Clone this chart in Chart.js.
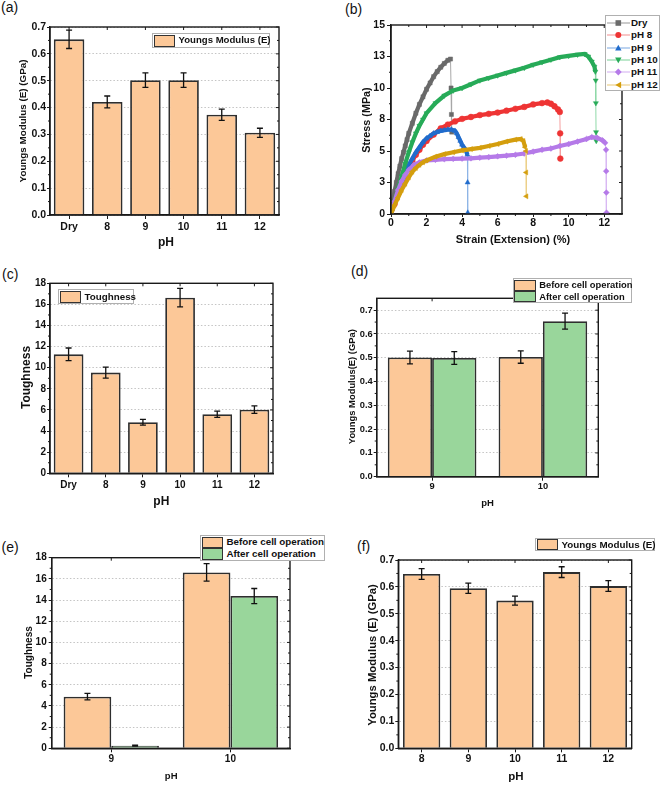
<!DOCTYPE html>
<html><head><meta charset="utf-8">
<script src="https://cdn.jsdelivr.net/npm/chart.js@4.4.1/dist/chart.umd.min.js"></script>
<style>
html,body{margin:0;padding:0;background:#fff;}
body{width:660px;height:785px;position:relative;overflow:hidden;font-family:"Liberation Sans",Arial,sans-serif;}
canvas{position:absolute;}
.lab{position:absolute;font-size:14px;line-height:14px;color:#111;font-family:"Liberation Sans",Arial,sans-serif;}
.leg{position:absolute;background:#fff;border:1px solid #b0b0b0;box-sizing:border-box;font-weight:bold;color:#111;z-index:5;}
.row{position:absolute;left:0;right:0;}
.sw{position:absolute;box-sizing:border-box;border:1.6px solid #333;}
.tx{position:absolute;white-space:nowrap;}
</style></head><body>
<div class="lab" style="left:1px;top:0px">(a)</div>
<div class="lab" style="left:345px;top:2px">(b)</div>
<div class="lab" style="left:2px;top:266.5px">(c)</div>
<div class="lab" style="left:351px;top:263.5px">(d)</div>
<div class="lab" style="left:1.5px;top:540px">(e)</div>
<div class="lab" style="left:357px;top:538.5px">(f)</div>
<canvas id="cA"></canvas><canvas id="cB"></canvas><canvas id="cC"></canvas>
<canvas id="cD"></canvas><canvas id="cE"></canvas><canvas id="cF"></canvas>
<script>
// ---------- DATA ----------
const phAll = ['Dry','8','9','10','11','12'];
const modulusA = [0.654,0.421,0.502,0.502,0.373,0.306];
const modulusAErr = [0.034,0.022,0.027,0.027,0.021,0.017];

const toughC = [11.27,9.54,4.83,16.64,5.59,6.03];
const toughCErr = [0.6,0.52,0.27,0.87,0.3,0.35];

const phCell = ['9','10'];
const modBefore = [0.501,0.503];
const modBeforeErr = [0.027,0.026];
const modAfter = [0.499,0.654];
const modAfterErr = [0.027,0.034];

const toughBefore = [4.88,16.61];
const toughBeforeErr = [0.31,0.83];
const toughAfter = [0.25,14.38];
const toughAfterErr = [0.05,0.71];

const phF = ['8','9','10','11','12'];
const modulusF = [0.648,0.595,0.549,0.655,0.603];
const modulusFErr = [0.02,0.019,0.017,0.02,0.02];

// stress-strain curves (strain %, stress MPa)
const dryStrain  = [0,0.1,0.2,0.3,0.4,0.5,0.6,0.7,0.8,0.9,1.0,1.2,1.4,1.6,1.8,2.0,2.2,2.4,2.6,2.8,3.0,3.2,3.35,3.38,3.4,3.42];
const dryStress  = [0,1.0,1.8,2.5,3.2,3.8,4.4,4.9,5.4,5.9,6.4,7.2,8.0,8.7,9.3,9.9,10.4,10.9,11.3,11.65,11.95,12.2,12.3,10.0,7.9,6.5];
const ph8Strain  = [0,0.2,0.4,0.6,0.8,1.0,1.2,1.4,1.6,1.8,2.0,2.4,2.8,3.2,3.6,4.0,4.5,5.0,5.5,6.0,6.5,7.0,7.5,8.0,8.5,8.8,9.0,9.2,9.4,9.5,9.52,9.53];
const ph8Stress  = [0,0.8,1.6,2.4,3.1,3.7,4.2,4.7,5.1,5.5,5.8,6.3,6.8,7.1,7.35,7.55,7.7,7.85,7.95,8.05,8.2,8.35,8.5,8.7,8.8,8.85,8.75,8.55,8.3,8.1,6.4,4.4];
const ph9Strain  = [0,0.2,0.4,0.6,0.8,1.0,1.2,1.4,1.6,1.8,2.0,2.2,2.4,2.6,2.8,3.0,3.2,3.4,3.6,3.7,3.8,3.9,4.0,4.1,4.2,4.3,4.31,4.32];
const ph9Stress  = [0,0.9,1.7,2.5,3.2,3.9,4.4,4.9,5.3,5.7,6.0,6.2,6.4,6.5,6.6,6.65,6.7,6.7,6.6,6.4,6.1,5.8,5.5,5.3,5.1,4.7,2.5,0.1];
const ph10Strain = [0,0.2,0.4,0.6,0.8,1.0,1.2,1.4,1.6,1.8,2.0,2.5,3.0,3.5,4.0,4.5,5.0,5.5,6.0,6.5,7.0,7.5,8.0,8.5,9.0,9.5,10.0,10.5,10.9,11.1,11.3,11.45,11.5,11.52,11.53,11.54,11.55];
const ph10Stress = [0,1.0,2.0,3.0,4.0,4.9,5.7,6.4,7.0,7.5,8.0,8.8,9.4,9.8,10.0,10.3,10.6,10.8,11.0,11.2,11.4,11.6,11.85,12.05,12.25,12.45,12.55,12.65,12.7,12.5,12.1,11.7,11.3,10.6,8.8,6.5,5.8];
const ph11Strain = [0,0.2,0.4,0.6,0.8,1.0,1.3,1.6,2.0,2.5,3.0,3.5,4.0,4.5,5.0,5.5,6.0,6.5,7.0,7.5,8.0,8.5,9.0,9.5,10.0,10.5,11.0,11.3,11.6,11.9,12.05,12.1,12.11,12.12,12.13];
const ph11Stress = [0,1.0,1.9,2.6,3.1,3.5,3.9,4.1,4.25,4.3,4.35,4.38,4.4,4.42,4.47,4.52,4.58,4.63,4.7,4.8,4.95,5.1,5.2,5.4,5.55,5.75,5.95,6.1,6.05,5.85,5.65,5.1,3.4,1.7,0.1];
const ph12Strain = [0,0.2,0.4,0.6,0.8,1.0,1.2,1.4,1.6,1.8,2.0,2.5,3.0,3.5,4.0,4.5,5.0,5.5,6.0,6.5,7.0,7.3,7.45,7.55,7.6,7.61,7.62];
const ph12Stress = [0,0.7,1.3,1.9,2.4,2.9,3.35,3.65,3.9,4.1,4.25,4.55,4.75,4.9,5.05,5.15,5.25,5.4,5.55,5.75,5.9,5.95,5.8,5.3,5.0,3.3,1.4];

const strainTicks = [0,2,4,6,8,10,12];
const stressTicks = [0,2.5,5,7.5,10,12.5,15];

// ---------- STYLE ----------
const F = "'Liberation Sans', Arial, sans-serif";
const ORANGE = '#FCC898', GREEN = '#99D69B', EDGE = '#2e2e2e', INK = '#111111';

const decor = {
  id:'decor',
  afterDatasetsDraw(chart){
    const ctx = chart.ctx, ys = chart.scales.y;
    chart.data.datasets.forEach((ds,i)=>{
      if(!ds.errors) return;
      chart.getDatasetMeta(i).data.forEach((el,j)=>{
        const v = ds.data[j], e = ds.errors[j];
        const y1 = ys.getPixelForValue(v+e), y2 = ys.getPixelForValue(v-e);
        ctx.save(); ctx.strokeStyle = INK; ctx.lineWidth = 1.3;
        ctx.beginPath();
        ctx.moveTo(el.x,y1); ctx.lineTo(el.x,y2);
        ctx.moveTo(el.x-3,y1); ctx.lineTo(el.x+3,y1);
        ctx.moveTo(el.x-3,y2); ctx.lineTo(el.x+3,y2);
        ctx.stroke(); ctx.restore();
      });
    });
  },
  afterDraw(chart){
    const o = chart.options.plugins.decor || {};
    const ctx = chart.ctx, a = chart.chartArea, xs = chart.scales.x, ys = chart.scales.y;
    ctx.save();
    ctx.strokeStyle = '#1a1a1a'; ctx.lineWidth = 1.4;
    ctx.strokeRect(a.left, a.top, a.right-a.left, a.bottom-a.top);
    ctx.lineWidth = 1; ctx.beginPath();
    ys.ticks.forEach(t=>{const p = ys.getPixelForValue(t.value); ctx.moveTo(a.right,p); ctx.lineTo(a.right-3,p);});
    for(let k=0;k<ys.ticks.length-1;k++){
      const p = ys.getPixelForValue((ys.ticks[k].value+ys.ticks[k+1].value)/2);
      ctx.moveTo(a.left,p); ctx.lineTo(a.left-2,p); ctx.moveTo(a.right,p); ctx.lineTo(a.right-2,p);
    }
    xs.ticks.forEach((t,k)=>{const p = xs.getPixelForTick(k); ctx.moveTo(p,a.top); ctx.lineTo(p,a.top+3);});
    if(o.minorX){
      for(let k=0;k<xs.ticks.length-1;k++){
        const p = xs.getPixelForValue((xs.ticks[k].value+xs.ticks[k+1].value)/2);
        ctx.moveTo(p,a.bottom); ctx.lineTo(p,a.bottom+2); ctx.moveTo(p,a.top); ctx.lineTo(p,a.top+2);
      }
    }
    ctx.stroke();
    // axis titles
    const off = chart.canvas._box;
    ctx.fillStyle = INK; ctx.textAlign='center'; ctx.textBaseline='middle';
    if(o.xTitle){
      ctx.font = 'bold '+o.xTitle.size+'px '+F;
      ctx.fillText(o.xTitle.text, o.xTitle.cx-off.x, o.xTitle.cy-off.y);
    }
    if(o.yTitle){
      ctx.save(); ctx.translate(o.yTitle.cx-off.x, o.yTitle.cy-off.y); ctx.rotate(-Math.PI/2);
      ctx.font = 'bold '+o.yTitle.size+'px '+F;
      ctx.fillText(o.yTitle.text, 0, 0); ctx.restore();
    }
    ctx.restore();
  }
};

function place(id, box){
  const c = document.getElementById(id);
  c.width = box.w; c.height = box.h;
  c.style.left = box.x+'px'; c.style.top = box.y+'px';
  c._box = box; return c;
}

function baseOptions(box, plot, o){
  const yTicks = {font:{family:F,weight:'bold',size:o.tf}, color:INK, padding:o.ytp ?? 1};
  if(o.yStep) yTicks.stepSize = o.yStep;
  if(o.yCb) yTicks.callback = o.yCb;
  yTicks.includeBounds = false;
  return {
    responsive:false, animation:false, devicePixelRatio:1,
    layout:{padding:{left:0, top:plot.t-box.y, right:box.x+box.w-plot.r, bottom:0}},
    plugins:{legend:{display:false}, tooltip:{enabled:false},
      decor:{xTitle:o.xTitle, yTitle:o.yTitle, minorX:o.minorX}},
    scales:{
      x: Object.assign({
        grid:{display:true, drawOnChartArea:false, offset:false, drawTicks:true, tickLength:o.xtl ?? 4, tickColor:'#1a1a1a', tickWidth:1},
        border:{display:true, color:'#1a1a1a', width:1.4},
        ticks:{font:{family:F,weight:'bold',size:o.tf}, color:INK, padding:o.xtp, maxRotation:0, autoSkip:false},
        afterFit:s=>{s.height = box.y+box.h-plot.b;}
      }, o.x || {}),
      y: {
        min:o.yMin, max:o.yMax,
        grid:{display:true, drawOnChartArea:!o.noGrid, color:'#c4c4c4', lineWidth:1, drawTicks:true, tickLength:3, tickColor:'#1a1a1a', tickWidth:1, tickBorderDash:[]},
        border:{display:true, color:'#1a1a1a', width:1.4, dash:[1.5,2]},
        ticks:yTicks,
        afterFit:s=>{s.width = plot.l-box.x;}
      }
    }
  };
}

function barDs(data, errs, color, bp, cp){
  return {data:data, errors:errs, backgroundColor:color, borderColor:EDGE, borderWidth:1.8, barPercentage:bp, categoryPercentage:cp};
}
const fmt1 = v => v.toFixed(1);

// ---------- (a) ----------
{
  const box = {x:0,y:0,w:330,h:255}, plot = {l:50,t:27,r:279,b:215};
  new Chart(place('cA',box), {type:'bar', plugins:[decor],
    data:{labels:phAll, datasets:[barDs(modulusA, modulusAErr, ORANGE, 0.8, 1.0)]},
    options: baseOptions(box, plot, {tf:10.5, xtp:1.5, yMin:0, yMax:0.7, yStep:0.1, yCb:fmt1,
      xTitle:{text:'pH', cx:166, cy:243, size:12},
      yTitle:{text:'Youngs Modulus (E) (GPa)', cx:23, cy:121, size:9.8}})});
}
// ---------- (b) ----------
{
  const box = {x:330,y:0,w:330,h:255}, plot = {l:391,t:25,r:622,b:214};
  const series = [
    {label:'Dry',   xs:dryStrain,  ys:dryStress,  color:'#6a6a6a', light:'#a8a8a8', style:'rect', rot:0},
    {label:'pH 8',  xs:ph8Strain,  ys:ph8Stress,  color:'#ee3434', light:'#f5a0a0', style:'circle', rot:0},
    {label:'pH 9',  xs:ph9Strain,  ys:ph9Stress,  color:'#216ccc', light:'#8fb6e6', style:'triangle', rot:0},
    {label:'pH 10', xs:ph10Strain, ys:ph10Stress, color:'#27ab58', light:'#8fd9a8', style:'triangle', rot:180},
    {label:'pH 11', xs:ph11Strain, ys:ph11Stress, color:'#b57ae8', light:'#d9b9f3', style:'rectRot', rot:0},
    {label:'pH 12', xs:ph12Strain, ys:ph12Stress, color:'#d49e0e', light:'#ecd08a', style:'triangle', rot:270}
  ];
  const steep = c => Math.abs(c.p1.parsed.x - c.p0.parsed.x) < 0.05;
  const datasets = series.map((s,i)=>({
    label:s.label, data:s.xs.map((x,k)=>({x:x, y:s.ys[k]})), showLine:true,
    borderColor:s.color, borderWidth:4.2, pointStyle:s.style, pointRotation:s.rot,
    pointRadius:2.9, pointBackgroundColor:s.color, pointBorderColor:s.color, pointBorderWidth:0.5,
    order:6-i,
    segment:{borderWidth:c=>steep(c)?1:4.2, borderColor:c=>steep(c)?s.light:s.color}
  }));
  const opt = baseOptions(box, plot, {tf:10.5, xtp:0, xtl:3, yMin:0, yMax:15, yStep:2.5, ytp:2, noGrid:true, minorX:true,
      yCb:v=>String(Math.round(v)),
      x:{type:'linear', min:0, max:13, ticks:{font:{family:F,weight:'bold',size:10.5}, color:INK, padding:0, stepSize:2, includeBounds:false, maxRotation:0}},
      xTitle:{text:'Strain (Extension) (%)', cx:513, cy:240, size:11},
      yTitle:{text:'Stress (MPa)', cx:367.5, cy:120, size:10.8}});
  opt.scales.y.grid.tickLength = 4;
  new Chart(place('cB',box), {type:'scatter', plugins:[decor], data:{datasets}, options:opt});
  // legend
  const lg = document.createElement('div'); lg.className='leg';
  Object.assign(lg.style,{left:'605px',top:'15px',width:'55px',height:'76px',fontSize:'9.8px'});
  series.forEach((s,i)=>{
    const r = document.createElement('div'); r.className='row';
    r.style.top = (1+i*12.3)+'px'; r.style.height='12.3px';
    let shape;
    const c = s.color;
    if(s.style==='rect') shape = `<rect x="9.5" y="3.2" width="5.6" height="5.6" fill="${c}"/>`;
    else if(s.style==='circle') shape = `<circle cx="12.3" cy="6" r="3" fill="${c}"/>`;
    else if(s.style==='rectRot') shape = `<polygon points="12.3,2.6 15.7,6 12.3,9.4 8.9,6" fill="${c}"/>`;
    else if(s.rot===0) shape = `<polygon points="12.3,2.8 15.5,8.6 9.1,8.6" fill="${c}"/>`;
    else if(s.rot===180) shape = `<polygon points="12.3,9.2 15.5,3.4 9.1,3.4" fill="${c}"/>`;
    else shape = `<polygon points="9.3,6 15.1,2.8 15.1,9.2" fill="${c}"/>`;
    r.innerHTML = `<svg width="25" height="12" style="position:absolute;left:0;top:0"><line x1="1" y1="6" x2="24" y2="6" stroke="${s.light}" stroke-width="1.2"/>${shape}</svg><span class="tx" style="left:25px;top:0px;line-height:12.3px">${s.label}</span>`;
    lg.appendChild(r);
  });
  document.body.appendChild(lg);
}
// ---------- (c) ----------
{
  const box = {x:0,y:255,w:330,h:255}, plot = {l:50,t:283.3,r:273,b:473.3};
  new Chart(place('cC',box), {type:'bar', plugins:[decor],
    data:{labels:phAll, datasets:[barDs(toughC, toughCErr, ORANGE, 0.8, 1.0)]},
    options: baseOptions(box, plot, {tf:10, xtp:1.5, yMin:0, yMax:18, yStep:2,
      xTitle:{text:'pH', cx:161.3, cy:501.7, size:12},
      yTitle:{text:'Toughness', cx:26.7, cy:377.5, size:12}})});
}
// ---------- (d) ----------
{
  const box = {x:330,y:255,w:330,h:255}, plot = {l:376.7,t:298.3,r:598.3,b:476.7};
  new Chart(place('cD',box), {type:'bar', plugins:[decor],
    data:{labels:phCell, datasets:[barDs(modBefore, modBeforeErr, ORANGE, 1.0, 0.8), barDs(modAfter, modAfterErr, GREEN, 1.0, 0.8)]},
    options: baseOptions(box, plot, {tf:9.3, xtp:0.5, yMin:0, yMax:0.75, yStep:0.1, yCb:fmt1,
      xTitle:{text:'pH', cx:487.5, cy:503.3, size:9.5},
      yTitle:{text:'Youngs Modulus(E) (GPa)', cx:352.7, cy:386.7, size:9.4}})});
}
// ---------- (e) ----------
{
  const box = {x:0,y:510,w:330,h:275}, plot = {l:51.7,t:557.7,r:290,b:748.3};
  new Chart(place('cE',box), {type:'bar', plugins:[decor],
    data:{labels:phCell, datasets:[barDs(toughBefore, toughBeforeErr, ORANGE, 1.0, 0.8), barDs(toughAfter, toughAfterErr, GREEN, 1.0, 0.8)]},
    options: baseOptions(box, plot, {tf:10, xtp:1, yMin:0, yMax:18, yStep:2, ytp:2,
      xTitle:{text:'pH', cx:171.2, cy:776.7, size:9.5},
      yTitle:{text:'Toughness', cx:29.3, cy:652.5, size:10}})});
}
// ---------- (f) ----------
{
  const box = {x:330,y:510,w:330,h:275}, plot = {l:398.3,t:560,r:631.7,b:748.3};
  new Chart(place('cF',box), {type:'bar', plugins:[decor],
    data:{labels:phF, datasets:[barDs(modulusF, modulusFErr, ORANGE, 0.8, 1.0)]},
    options: baseOptions(box, plot, {tf:10.5, xtp:1, yMin:0, yMax:0.7, yStep:0.1, yCb:fmt1,
      xTitle:{text:'pH', cx:515.8, cy:776.7, size:11.5},
      yTitle:{text:'Youngs Modulus (E) (GPa)', cx:373.3, cy:655, size:11.3}})});
}

// ---------- bar legends ----------
function barLegend(x, y, w, h, items, fs){
  const lg = document.createElement('div'); lg.className='leg';
  Object.assign(lg.style,{left:x+'px',top:y+'px',width:w+'px',height:h+'px',fontSize:fs+'px'});
  const rh = (h-2)/items.length;
  items.forEach((it,i)=>{
    const sw = document.createElement('div'); sw.className='sw';
    Object.assign(sw.style,{left:'0.5px',top:(0.5+i*rh)+'px',width:'21.5px',height:(rh-0.5)+'px',background:it.color});
    const t = document.createElement('span'); t.className='tx'; t.textContent = it.label;
    Object.assign(t.style,{left:'25.5px',top:(i*rh)+'px',lineHeight:rh+'px'});
    lg.appendChild(sw); lg.appendChild(t);
  });
  document.body.appendChild(lg);
}
barLegend(152, 33, 118, 14.5, [{label:'Youngs Modulus (E)', color:ORANGE}], 9.6);
barLegend(58, 289, 76, 15, [{label:'Toughness', color:ORANGE}], 9.8);
barLegend(512.7, 278, 119, 25, [{label:'Before cell operation', color:ORANGE},{label:'After cell operation', color:GREEN}], 9.4);
barLegend(200, 535, 125, 25.5, [{label:'Before cell operation', color:ORANGE},{label:'After cell operation', color:GREEN}], 9.8);
barLegend(535, 537.7, 120, 13.5, [{label:'Youngs Modulus (E)', color:ORANGE}], 9.8);
</script>
</body></html>
